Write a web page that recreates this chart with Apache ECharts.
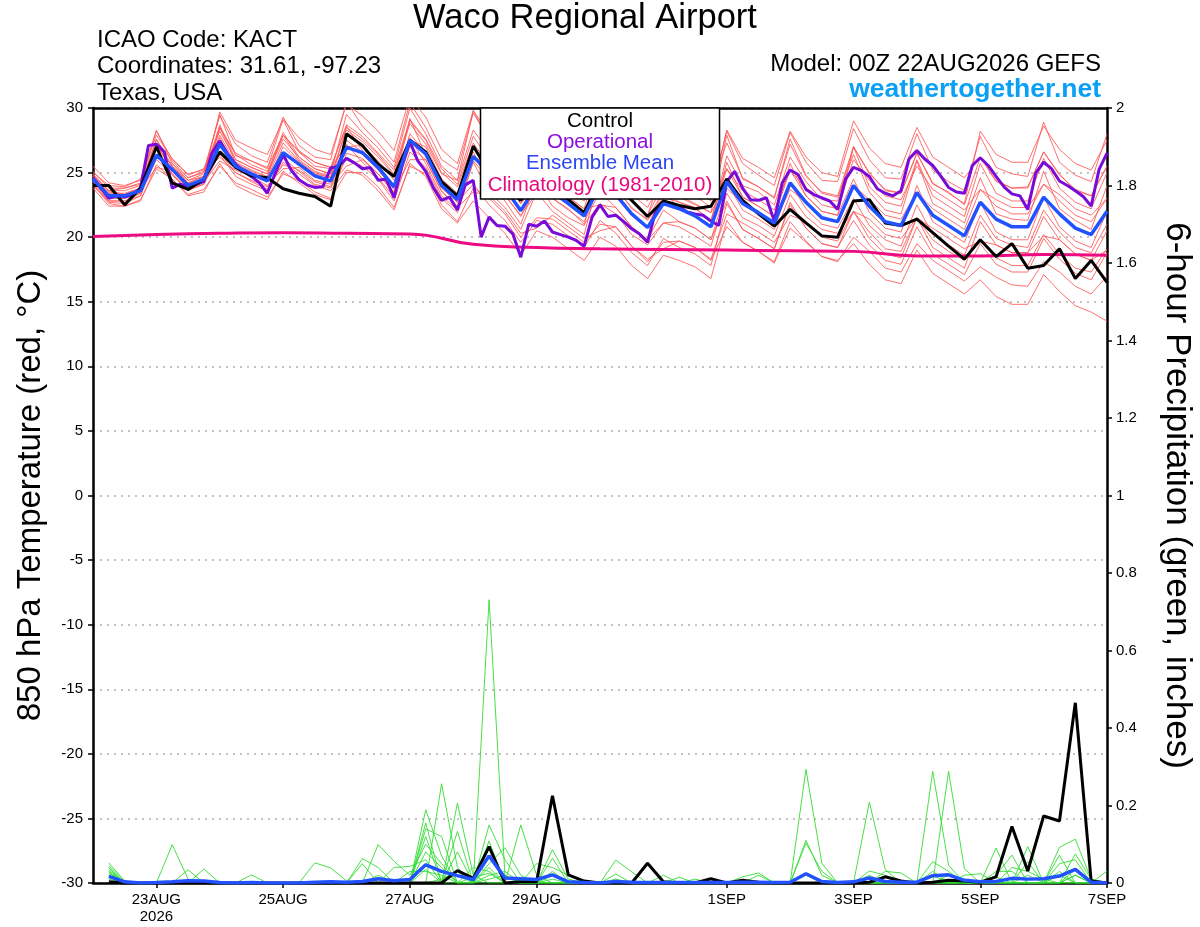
<!DOCTYPE html>
<html><head><meta charset="utf-8">
<script src="https://cdn.jsdelivr.net/npm/echarts@6/dist/echarts.min.js"></script>
<style>html,body{margin:0;padding:0;background:#fff}#chart{width:1200px;height:927px}</style>
</head><body><div id="chart"></div>
<script>
// ---- x axis (hours since 00Z 22AUG2026) ----
const tickHours = [24, 72, 120, 168, 240, 288, 336, 384];
const tickLabels = ['23AUG\n2026', '25AUG', '27AUG', '29AUG', '1SEP', '3SEP', '5SEP', '7SEP'];

// ---- 850 hPa temperature (deg C), 6-hourly from hour 0 ----
const controlTemp = [
 24.0,24.0,22.5,23.8,27.0,24.2,23.7,24.5,
 26.6,25.4,24.75,24.6,23.75,23.4,23.15,22.4,
 28.0,27.1,25.65,24.7,27.5,26.6,24.3,23.2,
 27.05,25.0,24.0,22.85,24.5,24.0,22.9,21.9,
 24.5,24.0,22.85,21.6,22.8,22.45,22.2,22.4,
 24.5,22.85,21.8,20.85,22.15,21.1,20.1,20.0,
 22.8,22.9,21.1,20.9,21.4,20.35,19.3,18.3,
 19.8,18.5,19.5,17.6,17.8,19.1,16.8,18.2,16.5];
const meanTemp = [
 24.5,23.2,23.2,23.6,26.35,25.25,24.0,24.5,
 27.2,25.5,24.9,24.35,26.55,25.65,24.75,24.35,
 26.95,26.55,25.4,23.9,27.5,26.45,24.0,22.9,
 26.25,25.0,23.8,22.05,24.0,23.5,22.6,21.65,
 24.0,23.3,21.8,20.75,22.6,22.2,21.65,20.8,
 24.3,22.6,21.9,21.1,24.2,22.7,21.5,21.2,
 24.0,22.4,21.2,20.9,23.45,21.7,20.9,20.1,
 22.7,21.4,20.8,20.8,23.1,21.8,20.7,20.2,22.0];
// operational run, 3-hourly from hour 0
const operationalTemp = [
 24.6,23.8,23.0,23.2,23.1,23.3,23.8,27.1,
 27.2,26.6,23.8,24.1,23.95,24.1,24.3,26.5,
 27.45,26.45,25.65,25.1,24.7,24.2,23.4,24.95,
 26.4,25.2,24.45,24.05,23.85,23.9,25.35,25.5,
 26.1,25.75,25.3,25.4,24.4,24.5,23.05,25.5,
 27.4,25.9,25.1,23.8,22.85,23.1,22.1,24.05,
 24.4,20.0,21.55,20.9,20.85,20.25,18.45,21.0,
 20.85,21.25,20.4,20.2,20.0,19.75,19.3,21.55,
 22.5,21.6,21.7,21.2,20.65,20.25,19.6,21.95,
 22.75,22.6,22.35,21.95,21.8,21.7,21.25,20.9,
 24.3,25.1,23.8,22.9,22.85,23.05,21.25,24.2,
 25.2,24.85,23.7,23.3,23.05,22.8,22.15,24.5,
 25.4,25.15,24.7,23.75,23.4,23.2,23.6,26.05,
 26.7,26.05,25.55,24.75,23.85,23.5,23.4,25.55,
 26.15,25.55,24.7,23.9,23.35,23.2,22.15,24.95,
 25.8,25.3,24.35,24.0,23.6,23.15,22.4,25.25,
 26.5];
// climatology (1981-2010), daily at 00Z
const climTemp = [20.05,20.2,20.3,20.35,20.3,20.25,19.45,19.2,19.1,19.05,19.0,18.95,18.9,18.55,18.55,18.65,18.6];

// ensemble members, 6-hourly from hour 0
const redMember01 = [
 25.0,24.0,23.9,24.5,28.2,26.0,24.9,25.2, 29.4,27.2,26.3,25.8,29.3,27.1,26.2,26.0,
 30.5,28.6,27.3,25.8,30.4,28.5,26.0,25.2, 29.6,27.6,26.2,24.7,27.8,26.0,25.0,24.1,
 27.3,25.8,24.5,23.3,26.0,24.6,24.2,23.4, 28.2,25.7,24.8,24.0,28.1,25.8,24.4,24.3,
 28.4,26.0,24.6,24.5,28.0,25.2,24.3,23.6, 27.8,25.4,24.9,24.7,28.9,25.8,24.8,24.3,28.0];
const redMember02 = [
 24.1,22.6,22.4,22.9,25.3,24.5,23.3,23.7, 25.5,24.2,23.7,23.1,24.9,24.4,23.5,23.0,
 25.0,25.0,23.9,22.3,25.5,24.9,22.5,21.2, 23.8,23.0,21.8,20.0,21.5,21.4,20.5,19.6,
 21.0,20.8,19.3,18.1,19.6,19.7,19.2,18.2, 20.8,19.6,18.9,18.0,20.7,19.6,18.5,18.1,
 20.0,18.9,17.6,17.3,19.5,18.2,17.4,16.6, 17.7,16.9,16.3,16.2,18.1,17.3,16.2,15.6,17.0];
const redMember03 = [
 24.7,23.6,23.3,23.8,27.1,25.5,24.4,24.7, 28.5,26.4,25.6,25.1,27.9,26.6,25.5,25.3,
 28.7,27.8,26.5,25.2,29.1,27.6,25.3,24.1, 27.8,26.0,24.7,23.1,25.4,24.5,23.5,22.8,
 25.0,23.9,22.2,21.4,23.6,22.7,22.3,21.2, 26.3,24.0,23.5,22.5,26.2,24.3,22.9,22.8,
 27.0,25.0,23.6,23.4,26.5,24.1,23.5,22.5, 26.2,24.3,23.8,23.9,26.6,24.9,23.6,23.2,25.5];
const redMember04 = [
 24.3,22.8,22.8,23.4,26.0,24.9,23.7,24.1, 26.5,25.0,24.3,23.7,26.1,25.1,24.1,23.8,
 26.1,25.5,24.5,22.8,26.6,25.4,23.0,21.9, 25.9,24.5,23.2,21.7,23.4,23.0,22.2,21.0,
 22.6,21.8,20.2,19.4,21.1,20.8,20.1,19.3, 23.4,21.5,20.9,20.1,23.3,21.6,20.6,20.3,
 22.0,20.4,19.1,18.9,21.5,19.8,18.9,18.2, 19.8,18.4,17.8,17.8,20.2,18.7,17.6,17.3,19.1];
const redMember05 = [
 24.9,23.6,23.8,24.1,28.3,25.7,24.6,25.0, 29.5,26.3,25.9,25.3,29.1,26.6,25.8,25.4,
 28.6,26.7,25.5,24.0,29.2,26.3,24.1,22.7, 26.6,24.1,22.8,21.0,24.4,22.4,21.5,20.9,
 26.4,24.3,22.9,21.7,25.2,23.1,22.5,21.9, 27.9,24.5,23.9,23.0,27.6,24.8,23.4,23.1,
 26.4,23.5,22.1,21.8,25.9,22.6,21.9,21.1, 24.6,21.8,21.4,21.3,25.1,22.2,21.3,20.6,24.0];
const redMember06 = [
 24.0,22.7,22.6,23.2,26.4,24.8,23.6,24.3, 27.7,25.4,25.0,24.3,27.0,25.8,24.9,24.6,
 28.3,27.4,26.2,24.8,28.8,27.2,24.9,24.4, 28.3,26.6,25.3,23.5,26.0,25.0,24.2,23.1,
 25.5,24.2,22.9,21.7,24.1,23.2,22.6,21.9, 24.3,22.1,21.4,20.6,24.2,22.2,21.0,20.7,
 23.0,20.9,19.8,19.3,22.5,20.2,19.4,18.6, 21.7,19.9,19.4,19.2,22.1,20.4,19.2,18.8,21.0];
const redMember07 = [
 24.4,23.3,23.1,23.7,25.4,25.1,24.2,24.3, 25.9,25.2,24.7,24.0,25.3,25.4,24.4,24.1,
 25.5,26.0,24.9,23.5,26.0,26.0,23.6,22.3, 23.5,23.2,22.0,20.3,20.7,21.7,20.8,19.9,
 20.5,20.8,19.3,18.3,19.1,19.7,19.2,18.3, 21.8,21.1,20.4,19.6,21.7,21.2,20.0,19.7,
 22.0,21.4,20.2,19.9,21.5,20.7,19.9,19.1, 19.7,19.4,18.8,18.8,20.1,19.8,18.7,18.2,19.0];
const redMember08 = [
 24.6,23.5,23.3,23.8,27.6,25.5,24.2,24.7, 28.7,26.0,25.4,24.9,28.1,26.2,25.3,24.9,
 29.5,28.1,26.9,25.4,30.0,28.0,25.5,24.4, 29.8,27.5,26.3,24.6,27.5,26.0,25.1,24.2,
 28.0,26.3,24.8,23.8,26.6,25.2,24.7,23.8, 27.3,24.6,23.9,23.1,27.2,24.7,23.5,23.2,
 27.0,23.9,22.7,22.4,26.0,23.2,22.4,21.6, 25.7,23.4,22.8,22.8,26.1,23.8,22.7,22.2,25.0];
const redMember09 = [
 23.8,22.4,22.4,22.8,25.6,24.5,23.2,23.5, 25.7,24.0,23.4,22.9,25.1,24.2,23.3,22.9,
 26.5,26.1,24.9,23.4,27.0,26.0,23.5,22.4, 26.3,25.0,23.8,22.1,24.0,23.5,22.6,21.7,
 24.5,23.8,22.3,21.3,23.1,22.7,22.2,21.3, 25.3,23.6,22.9,22.1,25.2,23.7,22.5,22.2,
 26.0,24.4,23.2,22.9,25.5,23.7,22.9,22.1, 23.7,22.4,21.8,21.8,24.1,22.8,21.7,21.2,23.0];
const redMember10 = [
 25.5,24.2,24.0,24.4,27.9,26.1,24.8,25.3, 28.2,26.0,25.4,24.9,27.6,26.2,25.3,24.9,
 27.5,26.6,25.4,23.9,28.0,26.5,24.0,22.9, 26.3,24.5,23.3,21.6,24.0,23.0,22.1,21.2,
 23.5,22.3,20.8,19.8,22.1,21.2,20.7,19.8, 22.8,20.6,19.9,19.1,22.7,20.7,19.5,19.2,
 22.0,19.9,18.7,18.4,21.5,19.2,18.4,17.6, 21.2,19.4,18.8,18.8,21.6,19.8,18.7,18.2,20.5];
const redMember11 = [
 24.3,23.0,23.0,23.4,27.2,25.1,23.8,24.3, 28.5,25.8,25.2,24.7,27.9,26.0,25.1,24.7,
 27.2,25.8,24.6,23.1,27.7,25.7,23.2,22.1, 25.8,23.5,22.3,20.6,23.5,22.0,21.1,20.2,
 25.0,23.3,21.8,20.8,23.6,22.2,21.7,20.8, 25.8,23.1,22.4,21.6,25.7,23.2,22.0,21.7,
 24.5,21.9,20.7,20.4,24.0,21.2,20.4,19.6, 22.7,20.4,19.8,19.8,23.1,20.8,19.7,19.2,22.0];
const redMember12 = [
 24.8,23.6,23.6,24.0,26.3,25.7,24.4,24.9, 26.2,25.0,24.4,23.9,25.6,25.2,24.3,23.9,
 27.0,27.1,25.9,24.4,27.5,27.0,24.5,23.4, 26.3,25.5,24.3,22.6,24.0,24.0,23.1,22.2,
 22.5,22.3,20.8,19.8,21.1,21.2,20.7,19.8, 23.8,22.6,21.9,21.1,23.7,22.7,21.5,21.2,
 24.0,22.9,21.7,21.4,23.5,22.2,21.4,20.6, 23.7,22.9,22.3,22.3,24.1,23.3,22.2,21.7,23.0];
const redMember13 = [
 24.1,22.8,22.8,23.2,26.3,24.9,23.6,24.1, 28.5,26.5,25.9,25.4,27.9,26.7,25.8,25.4,
 27.1,26.4,25.2,23.7,27.6,26.3,23.8,22.7, 24.1,22.5,21.3,19.6,21.3,21.0,20.1,19.2,
 21.3,20.3,18.8,17.8,19.9,19.2,18.7,17.8, 22.6,20.6,19.9,19.1,22.5,20.7,19.5,19.2,
 21.3,19.4,18.2,17.9,20.8,18.7,17.9,17.1, 19.5,17.9,17.3,17.3,19.9,18.3,17.2,16.7,18.8];
const redMember14 = [
 25.1,23.8,23.8,24.2,27.5,25.9,24.6,25.1, 27.9,25.7,25.1,24.6,27.3,25.9,25.0,24.6,
 28.5,27.6,26.4,24.9,29.0,27.5,25.0,23.9, 27.3,25.5,24.3,22.6,25.0,24.0,23.1,22.2,
 26.5,25.3,23.8,22.8,25.1,24.2,23.7,22.8, 28.3,26.1,25.4,24.6,28.2,26.2,25.0,24.7,
 29.0,26.9,25.7,25.4,28.5,26.2,25.4,24.6, 26.2,24.4,23.8,23.8,26.6,24.8,23.7,23.2,25.5];
const redMember15 = [
 24.4,23.1,23.1,23.5,26.3,25.2,23.9,24.4, 26.4,24.7,24.1,23.6,25.8,24.9,24.0,23.6,
 25.2,24.8,23.6,22.1,25.7,24.7,22.2,21.1, 22.8,21.5,20.3,18.6,20.5,20.0,19.1,18.2,
 20.0,19.3,17.8,16.8,18.6,18.2,17.7,16.8, 21.3,19.6,18.9,18.1,21.2,19.7,18.5,18.2,
 19.5,17.9,16.7,16.4,19.0,17.2,16.4,15.6, 16.7,15.4,14.8,14.8,17.1,15.8,14.7,14.2,13.5];
const redMember16 = [
 24.7,23.4,23.4,23.8,27.1,25.5,24.2,24.7, 29.7,27.5,26.9,26.4,29.1,27.7,26.8,26.4,
 30.3,29.4,28.2,26.7,30.8,29.3,26.8,25.7, 29.8,28.0,26.8,25.1,27.5,26.5,25.6,24.7,
 26.0,24.8,23.3,22.3,24.6,23.7,23.2,22.3, 25.3,23.1,22.4,21.6,25.2,23.2,22.0,21.7,
 27.0,24.9,23.7,23.4,26.5,24.2,23.4,22.6, 28.2,26.4,25.8,25.8,28.6,26.8,25.7,25.2,27.5];

// ---- 6-hour precipitation (inches), 6-hourly from hour 6 ----
const controlPrecip = [
 .003,0,0,0,0,0,0,0, 0,0,0,0,0,0,0,0,
 0,0,0,0,0,0,.032,.012, .094,0,.003,.003,.225,.021,.005,0,
 0,0,.051,.003,0,0,.011,0, .007,.002,0,0,0,0,0,0,
 .002,.016,.005,0,.002,.007,.005,.002, .016,.146,.031,.173,.160,.465,.005,0];
const meanPrecip = [
 .017,.003,0,.001,.003,.006,.005,.001, 0,.001,0,0,0,.002,.003,.002,
 .004,.011,.006,.009,.047,.030,.019,.009, .070,.013,.011,.009,.021,.003,.001,0,
 .004,.002,.001,.001,.001,.001,.001,.001, .002,.002,.001,.002,.024,.004,.001,.003,
 .013,.004,.002,.002,.019,.021,.007,.003, .004,.012,.010,.011,.018,.035,.002,0];
const greenMember01 = [
 .052,.005,0,0,0,0,0,0, 0,0,0,0,0,0,0,0, 0,0,0,0,.189,.07,0,0, .731,.02,0,0,0,0,0,0,
 0,0,0,0,0,0,0,0, 0,0,0,0,.293,.051,0,0, 0,0,0,0,0,0,0,0, 0,0,0,0,.092,.113,.01,0];
const greenMember02 = [
 .039,0,0,0,.099,.01,0,0, 0,0,0,0,0,0,0,0, 0,0,0,0,0,.256,.04,0, 0,0,.15,.02,0,0,0,0,
 0,0,0,0,0,0,0,0, 0,0,0,0,0,0,0,0, 0,0,0,0,.288,.046,0,0, .02,.072,0,0,0,0,0,0];
const greenMember03 = [
 .034,0,0,0,0,0,.036,0, 0,0,0,0,0,0,0,0, 0,0,0,0,.155,0,.206,.02, 0,0,0,0,.086,.01,0,0,
 0,0,0,0,0,0,0,0, 0,0,0,0,0,0,0,0, 0,0,0,0,0,.288,.037,0, 0,0,.094,0,.072,0,0,0];
const greenMember04 = [
 .027,0,0,0,0,0,0,0, 0,0,0,0,0,.052,.039,.005, 0,0,0,0,.14,.12,0,0, .15,.06,0,0,0,0,0,0,
 0,0,0,0,0,0,0,0, 0,0,0,0,0,0,0,0, .209,.035,0,0,0,0,0,0, 0,0,0,0,0,.075,.01,0];
const greenMember05 = [
 .02,0,0,0,0,.034,0,0, 0,0,0,0,0,0,0,0, .063,.04,0,0,.12,0,.133,0, .108,0,0,0,0,0,0,0,
 .059,.029,0,0,0,0,0,0, 0,0,0,0,.11,.02,0,0, 0,0,0,0,0,0,0,0, .09,0,.055,0,0,0,0,0];
const greenMember06 = [
 .015,0,0,0,0,0,0,0, 0,.021,0,0,0,0,0,0, 0,.099,.056,.02,.1,.05,0,0, .09,0,0,0,.064,0,0,0,
 0,0,0,0,0,0,0,0, 0,0,0,0,.103,.03,0,0, 0,0,0,0,.055,.03,0,0, 0,0,0,0,.05,.06,0,0];
const greenMember07 = [
 .03,0,0,0,0,0,0,0, 0,0,0,0,0,0,0,0, .05,0,.04,.043,.06,0,.08,0, .05,.091,.02,0,0,0,0,0,
 .023,0,0,.02,0,0,0,0, .016,.026,0,0,0,0,0,0, .031,.02,0,0,0,0,.02,.024, 0,0,0,0,0,0,0,.031];
const greenMember08 = [
 .045,.005,0,0,0,0,0,0, 0,0,0,0,0,0,0,0, 0,0,0,.03,.03,.02,0,0, .04,0,0,.05,.04,.02,0,0,
 0,0,0,0,.015,0,0,0, 0,0,0,0,0,0,0,0, 0,.03,.026,0,0,0,0,0, 0,.04,.03,.01,0,.035,0,0];
const greenMember09 = [
 .025,0,0,0,0,0,0,0, 0,0,0,0,0,0,0,0, 0,0,0,0,.08,.04,0,.04, .03,0,0,0,.03,0,0,0,
 .01,0,0,0,0,0,0,0, 0,.02,0,0,0,0,0,0, .02,0,0,0,.03,0,0,0, .03,.03,0,0,.03,0,0,0];
const greenMember10 = [
 .01,0,0,0,0,0,0,0, 0,0,0,0,0,0,0,0, 0,.02,0,0,.05,.03,.02,0, .02,.03,0,0,.02,0,0,0,
 0,0,0,0,0,0,0,0, 0,0,0,0,.02,0,0,0, 0,0,0,0,0,.02,0,0, 0,0,.02,0,0,.02,0,0];
const greenMember11 = [
 .018,0,0,0,0,0,0,0, 0,0,0,0,0,0,0,0, 0,0,0,0,.035,0,0,.015, .025,0,.01,0,0,0,0,0,
 0,0,0,0,0,.01,0,0, 0,0,0,0,0,0,0,0, 0,0,0,0,.02,0,0,0, 0,0,0,0,.02,0,0,0];
const greenMember12 = [
 .04,0,0,0,0,0,0,0, 0,0,0,0,0,0,0,0, 0,0,0,0,0,.01,.03,0, .01,.02,0,0,.01,0,0,0,
 0,0,0,0,0,0,0,0, 0,0,0,0,0,0,0,0, .015,0,0,0,0,0,0,0, .015,0,0,0,0,.02,0,0];

const redMembers = [redMember01,redMember02,redMember03,redMember04,redMember05,redMember06,redMember07,redMember08,
  redMember09,redMember10,redMember11,redMember12,redMember13,redMember14,redMember15,redMember16];
const greenMembers = [greenMember01,greenMember02,greenMember03,greenMember04,greenMember05,greenMember06,
  greenMember07,greenMember08,greenMember09,greenMember10,greenMember11,greenMember12];

const FONT = "'Liberation Sans', Arial, Helvetica, sans-serif";
const pairs = (arr, start, step) => arr.map((v, i) => [start + i * step, v]);

const series = [];
redMembers.forEach((m, k) => series.push({
  name: 'member' + (k + 1), type: 'line', data: pairs(m, 0, 6), showSymbol: false, silent: true, z: 1,
  lineStyle: { color: '#ff5757', width: 1, opacity: 0.85 }
}));
greenMembers.forEach((m, k) => series.push({
  name: 'precipMember' + (k + 1), type: 'line', yAxisIndex: 1, data: pairs(m, 6, 6), showSymbol: false, silent: true, z: 1,
  lineStyle: { color: '#33dd33', width: 1, opacity: 0.9 }
}));
series.push({ name: 'Climatology (1981-2010)', type: 'line', data: pairs(climTemp, 0, 24), smooth: 0.5, showSymbol: false, z: 3,
  lineStyle: { color: '#ee0a80', width: 3 } });
series.push({ name: 'Operational', type: 'line', data: pairs(operationalTemp, 0, 3), showSymbol: false, z: 4,
  lineStyle: { color: '#7a0ad8', width: 3 } });
series.push({ name: 'Control', type: 'line', data: pairs(controlTemp, 0, 6), showSymbol: false, z: 5,
  lineStyle: { color: '#000000', width: 3 } });
series.push({ name: 'Ensemble Mean', type: 'line', data: pairs(meanTemp, 0, 6), showSymbol: false, z: 6,
  lineStyle: { color: '#2252ff', width: 3.5 } });
series.push({ name: 'Control precip', type: 'line', yAxisIndex: 1, data: pairs(controlPrecip, 6, 6), showSymbol: false, z: 5,
  lineStyle: { color: '#000000', width: 3 } });
series.push({ name: 'Mean precip', type: 'line', yAxisIndex: 1, data: pairs(meanPrecip, 6, 6), showSymbol: false, z: 6,
  lineStyle: { color: '#2252ff', width: 3.5 } });

const txt = (text, x, y, size, color, align, weight) => ({
  type: 'text', x: x, y: y, z: 100,
  style: { text: text, font: (weight || 'normal') + ' ' + size + 'px ' + FONT, fill: color,
    textAlign: align, textVerticalAlign: 'middle', align: align, verticalAlign: 'middle' }
});

const chart = echarts.init(document.getElementById('chart'), null, { renderer: 'canvas' });
chart.setOption({
  animation: false,
  backgroundColor: '#ffffff',
  textStyle: { fontFamily: FONT },
  grid: { left: 93, right: 93, top: 108, bottom: 44, containLabel: false, outerBoundsMode: 'none',
    show: false },
  xAxis: [{
    type: 'value', min: 0, max: 384, position: 'bottom',
    axisLine: { show: true, onZero: false, lineStyle: { color: '#000', width: 2.5 } },
    axisTick: { show: true, customValues: tickHours, length: 5, lineStyle: { color: '#000', width: 1.5 } },
    axisLabel: { show: true, customValues: tickHours, color: '#000', fontSize: 15, margin: 8, lineHeight: 17,
      formatter: v => { const k = tickHours.indexOf(v); return k >= 0 ? tickLabels[k] : ''; } },
    splitLine: { show: false }
  }, {
    type: 'value', min: 0, max: 384, position: 'top',
    axisLine: { show: true, onZero: false, lineStyle: { color: '#000', width: 2.5 } },
    axisTick: { show: false }, axisLabel: { show: false }, splitLine: { show: false }
  }],
  yAxis: [
    { type: 'value', min: -30, max: 30, interval: 5, position: 'left',
      name: '850 hPa Temperature (red, °C)', nameLocation: 'middle', nameGap: 46, nameRotate: 90,
      nameTextStyle: { fontSize: 33, color: '#000', fontFamily: FONT },
      axisLine: { show: true, onZero: false, lineStyle: { color: '#000', width: 2.5 } },
      axisTick: { show: true, length: 5, lineStyle: { color: '#000', width: 1.5 } },
      axisLabel: { color: '#000', fontSize: 15, margin: 10 },
      splitLine: { show: true, lineStyle: { color: '#b0b0b0', width: 1.5, type: [2, 5] } } },
    { type: 'value', min: 0, max: 2, interval: 0.2, position: 'right',
      name: '6-hour Precipitation (green, inches)', nameLocation: 'middle', nameGap: 52, nameRotate: -90,
      nameTextStyle: { fontSize: 35, color: '#000', fontFamily: FONT },
      axisLine: { show: true, onZero: false, lineStyle: { color: '#000', width: 2.5 } },
      axisTick: { show: true, length: 5, lineStyle: { color: '#000', width: 1.5 } },
      axisLabel: { color: '#000', fontSize: 15, margin: 9 },
      splitLine: { show: false } }
  ],
  graphic: [
    txt('Waco Regional Airport', 585, 18, 34.5, '#000', 'center'),
    txt('ICAO Code: KACT', 97, 40, 24, '#000', 'left'),
    txt('Coordinates: 31.61, -97.23', 97, 66, 24, '#000', 'left'),
    txt('Texas, USA', 97, 93, 24, '#000', 'left'),
    txt('Model: 00Z 22AUG2026 GEFS', 1101, 64, 24, '#000', 'right'),
    txt('weathertogether.net', 1101, 90, 26.5, '#0aa0f5', 'right', 'bold'),
    { type: 'rect', z: 99, shape: { x: 480.5, y: 108, width: 239, height: 91 },
      style: { fill: '#ffffff', stroke: '#000', lineWidth: 1.5 } },
    txt('Control', 600, 121, 20.5, '#000', 'center'),
    txt('Operational', 600, 142, 20.5, '#8a10e0', 'center'),
    txt('Ensemble Mean', 600, 163, 20.5, '#2a45f5', 'center'),
    txt('Climatology (1981-2010)', 600, 185, 20.5, '#e8087e', 'center')
  ],
  series: series
});
</script>
</body></html>
